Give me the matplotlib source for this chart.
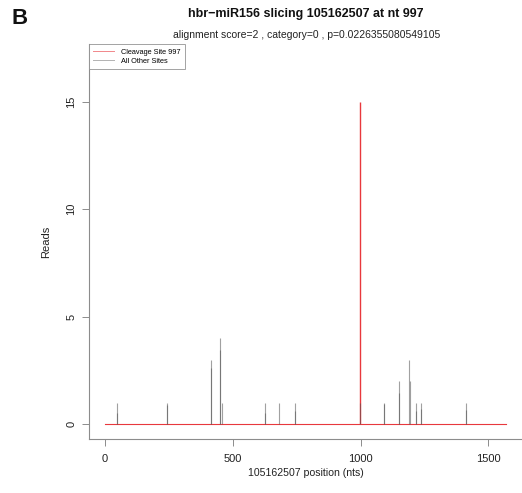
import numpy as np
import matplotlib
matplotlib.use('Agg')
import matplotlib.pyplot as plt
from matplotlib.lines import Line2D

plt.rcParams['font.family'] = ['Liberation Sans', 'DejaVu Sans']

# data
seq_len = 1569
cleavage_site = 997
cleavage_reads = 15

# all other sites (positions in nts, reads); close pairs overlap and look darker
other_pos = [45, 46, 241, 242, 414, 415, 449, 450, 456, 625, 626, 681,
             742, 743, 997, 1091, 1092, 1150, 1151, 1191, 1192, 1217, 1218,
             1237, 1238, 1413, 1414]
other_reads = [1.0, 0.55, 1.0, 0.9, 3.0, 2.6, 4.0, 3.45, 1.0, 1.0, 0.55, 1.0,
               1.0, 0.6, 1.0, 1.0, 0.95, 2.0, 1.45, 3.0, 2.0, 1.0, 0.6,
               1.0, 0.7, 1.0, 0.65]

x_ticks = [0, 500, 1000, 1500]
y_ticks = [0, 5, 10, 15]
y_top = 17

title = 'hbr\u2212miR156 slicing 105162507 at nt 997'
subtitle = 'alignment score=2 , category=0 , p=0.0226355080549105'

fig = plt.figure(figsize=(5.22, 4.93), dpi=100)
ax = fig.add_axes([89 / 522, 54 / 493, (522 - 89) / 522, (439 - 44) / 493])

red = '#e8383d'
grey = '#555555'

# cleavage site: flat line at zero with the spike at the site
ax.plot([0, seq_len], [0, 0], color=red, lw=0.8, zorder=2)
ax.vlines(cleavage_site, 0, cleavage_reads, color=red, lw=1.0, zorder=2)
# other sites as spikes
ax.vlines(other_pos, 0, other_reads, color=grey, lw=0.8, alpha=0.55, zorder=3)

# R style 4% padding on the axes
xpad = 0.04 * seq_len
ax.set_xlim(-xpad, seq_len + xpad)
ax.set_ylim(-0.04 * y_top, y_top * 1.04)

for s in ['top', 'right']:
    ax.spines[s].set_visible(False)
for s in ['left', 'bottom']:
    ax.spines[s].set_color('#8c8c8c')
    ax.spines[s].set_linewidth(0.8)

ax.set_xticks(x_ticks)
ax.set_yticks(y_ticks)
ax.tick_params(direction='out', length=5, width=0.7, color='#8c8c8c',
               labelsize=8, labelcolor='#222222', pad=6)
ax.tick_params(axis='y', labelrotation=90, pad=4)
for lab in ax.get_yticklabels():
    lab.set_va('center')

ax.text(-0.099, 0.5, 'Reads', rotation=90, ha='center', va='center',
        transform=ax.transAxes, fontsize=8, color='#222222')
fig.text(305.5 / 522, 1 - 473 / 493, '105162507 position (nts)', ha='center',
         va='center', fontsize=7.6, color='#222222')

fig.text(305.5 / 522, 1 - 14 / 493, title, ha='center', va='center',
         fontsize=9, fontweight='bold', color='#111111')
fig.text(307 / 522, 1 - 35 / 493, subtitle, ha='center', va='center',
         fontsize=7.5, color='#222222')
fig.text(20 / 522, 1 - 18 / 493, 'B', ha='center', va='center',
         fontsize=16, fontweight='bold', color='#111111')

handles = [Line2D([], [], color=red, lw=0.7, alpha=0.6),
           Line2D([], [], color=grey, lw=0.7, alpha=0.45)]
leg = ax.legend(handles, ['Cleavage Site 997', 'All Other Sites'],
                loc='upper left', bbox_to_anchor=(0, 1), borderaxespad=0,
                fontsize=5.3, frameon=True, fancybox=False, handlelength=2.8,
                handletextpad=1.0, labelspacing=0.3, borderpad=0.6)
leg.get_frame().set_edgecolor('#8c8c8c')
leg.get_frame().set_linewidth(0.7)

fig.savefig('out.png', dpi=100)
